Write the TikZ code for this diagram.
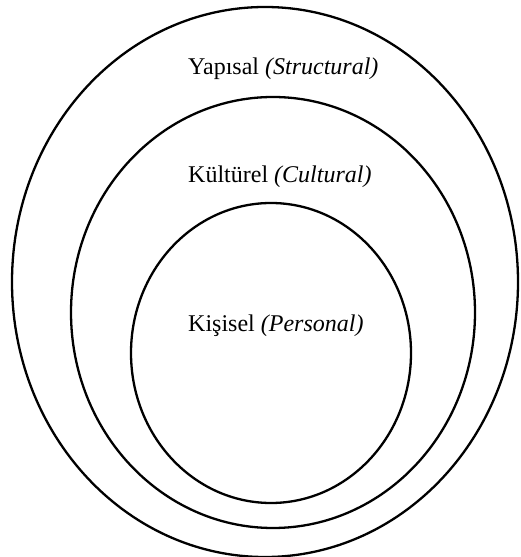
\documentclass[tikz,border=0pt]{standalone}
\usepackage{fontspec}
\setmainfont{Liberation Serif}
\begin{document}
\begin{tikzpicture}[x=1pt,y=1pt,
  ring/.style={draw=black,line width=2.3pt},
  lbl/.style={anchor=base west,inner sep=0pt,font=\fontsize{24}{28}\selectfont}]
\useasboundingbox (0,0) rectangle (520,557);
\draw[ring] (265,275) ellipse [x radius=253, y radius=275];
\draw[ring] (273,244.5) ellipse [x radius=202, y radius=215.5];
\draw[ring] (271,204) ellipse [x radius=140, y radius=150];
\node[lbl] (structural) at (188,482) {Yapısal \textit{(Structural)}};
\node[lbl] (cultural) at (188,374) {Kültürel \textit{(Cultural)}};
\node[lbl] (personal) at (188,225) {Kişisel \textit{(Personal)}};
\end{tikzpicture}
\end{document}
